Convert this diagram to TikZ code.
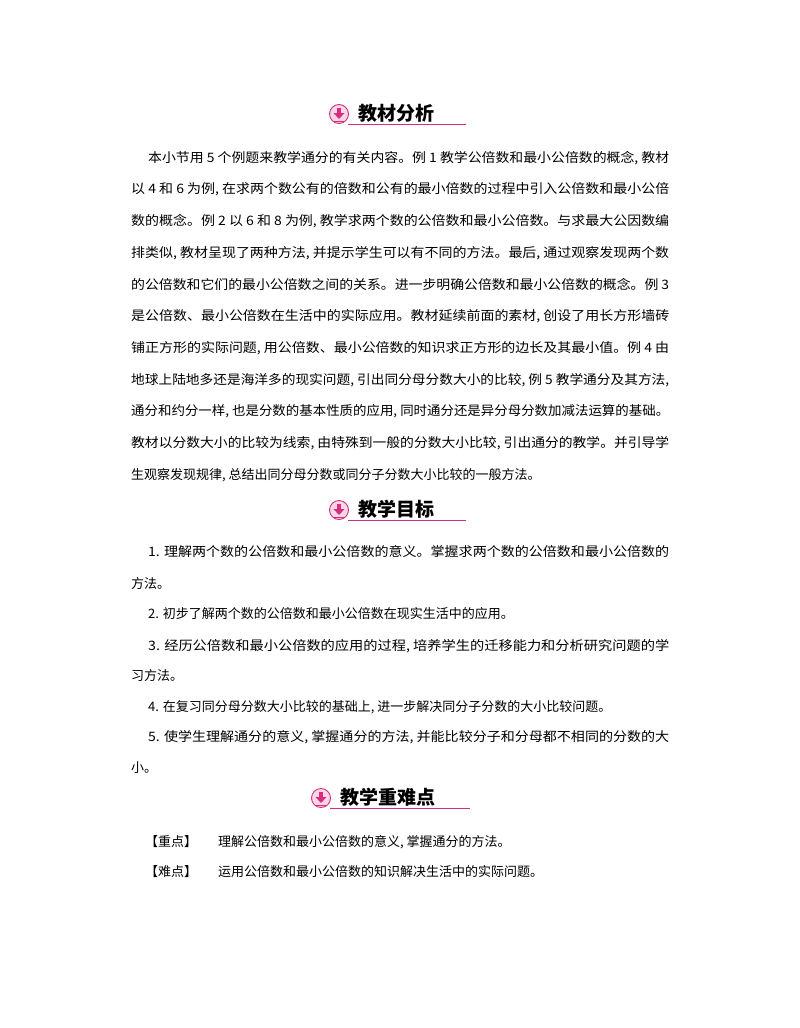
\documentclass[tikz,border=0pt]{standalone}
\usepackage{fontspec}
\usepackage{graphicx}
\setmainfont{Noto Sans CJK SC}
\definecolor{pk}{RGB}{214,45,125}
\definecolor{pkl}{RGB}{250,215,230}
\tikzset{
 ln/.style={anchor=west,inner sep=0pt,font=\fontsize{13}{13}\selectfont},
 hd/.style={anchor=west,inner sep=0pt,font=\fontsize{19}{19}\selectfont\bfseries},
}
\newcommand{\jl}[2]{\resizebox{#1}{\height}{#2}}
\newcommand{\hdicon}[5]{%
 \node[circle,draw=pk,fill=pkl,line width=0.9pt,minimum size=19pt,inner sep=0pt] (#1) at (#2,#3) {};
 \fill[pk] ($(#1)+(-2,-6)$) rectangle ($(#1)+(2,-1)$);
 \fill[pk] ($(#1)+(-5.5,-1)$) -- ($(#1)+(5.5,-1)$) -- ($(#1)+(0,5)$) -- cycle;
 \draw[pk,line width=0.6pt] ($(#1)+(-5,7)$) -- ($(#1)+(5,7)$);
 \node[hd] (#1t) at (#2+19,#3-1) {#4};
 \draw[pk,line width=1pt] ($(#1)+(9,10)$) -- (#5,#3+10);
}
\usetikzlibrary{calc}
\begin{document}
\begin{tikzpicture}[x=1pt,y=-1pt]
\useasboundingbox (0,0) rectangle (800,1028);
\hdicon{h1}{339}{114}{教材分析}{466}
\node[ln] (p1) at (148,158) {\jl{521pt}{本小节用 5 个例题来教学通分的有关内容。例 1 教学公倍数和最小公倍数的概念, 教材}};
\node[ln] (p2) at (131,189.7) {\jl{538pt}{以 4 和 6 为例, 在求两个数公有的倍数和公有的最小倍数的过程中引入公倍数和最小公倍}};
\node[ln] (p3) at (131,221.4) {\jl{538pt}{数的概念。例 2 以 6 和 8 为例, 教学求两个数的公倍数和最小公倍数。与求最大公因数编}};
\node[ln] (p4) at (131,253.1) {\jl{538pt}{排类似, 教材呈现了两种方法, 并提示学生可以有不同的方法。最后, 通过观察发现两个数}};
\node[ln] (p5) at (131,284.8) {\jl{538pt}{的公倍数和它们的最小公倍数之间的关系。进一步明确公倍数和最小公倍数的概念。例 3}};
\node[ln] (p6) at (131,316.5) {\jl{538pt}{是公倍数、最小公倍数在生活中的实际应用。教材延续前面的素材, 创设了用长方形墙砖}};
\node[ln] (p7) at (131,348.2) {\jl{538pt}{铺正方形的实际问题, 用公倍数、最小公倍数的知识求正方形的边长及其最小值。例 4 由}};
\node[ln] (p8) at (131,379.9) {\jl{538pt}{地球上陆地多还是海洋多的现实问题, 引出同分母分数大小的比较, 例 5 教学通分及其方法,}};
\node[ln] (p9) at (131,411.6) {\jl{538pt}{通分和约分一样, 也是分数的基本性质的应用, 同时通分还是异分母分数加减法运算的基础。}};
\node[ln] (p10) at (131,443.3) {\jl{538pt}{教材以分数大小的比较为线索, 由特殊到一般的分数大小比较, 引出通分的教学。并引导学}};
\node[ln] (p11) at (131,475) {生观察发现规律, 总结出同分母分数或同分子分数大小比较的一般方法。};
\hdicon{h2}{339}{510}{教学目标}{466}
\node[ln] (g1) at (148,552) {\jl{521pt}{1. 理解两个数的公倍数和最小公倍数的意义。掌握求两个数的公倍数和最小公倍数的}};
\node[ln] (g1b) at (131,584) {方法。};
\node[ln] (g2) at (148,614) {2. 初步了解两个数的公倍数和最小公倍数在现实生活中的应用。};
\node[ln] (g3) at (148,646) {\jl{521pt}{3. 经历公倍数和最小公倍数的应用的过程, 培养学生的迁移能力和分析研究问题的学}};
\node[ln] (g3b) at (131,676) {习方法。};
\node[ln] (g4) at (148,707) {4. 在复习同分母分数大小比较的基础上, 进一步解决同分子分数的大小比较问题。};
\node[ln] (g5) at (148,737) {\jl{521pt}{5. 使学生理解通分的意义, 掌握通分的方法, 并能比较分子和分母都不相同的分数的大}};
\node[ln] (g5b) at (131,768) {小。};
\hdicon{h3}{321}{798}{教学重难点}{470}
\node[ln] (k1) at (145,842) {【重点】};
\node[ln] (k1t) at (218,842) {理解公倍数和最小公倍数的意义, 掌握通分的方法。};
\node[ln] (k2) at (145,872) {【难点】};
\node[ln] (k2t) at (218,872) {运用公倍数和最小公倍数的知识解决生活中的实际问题。};
\end{tikzpicture}
\end{document}
